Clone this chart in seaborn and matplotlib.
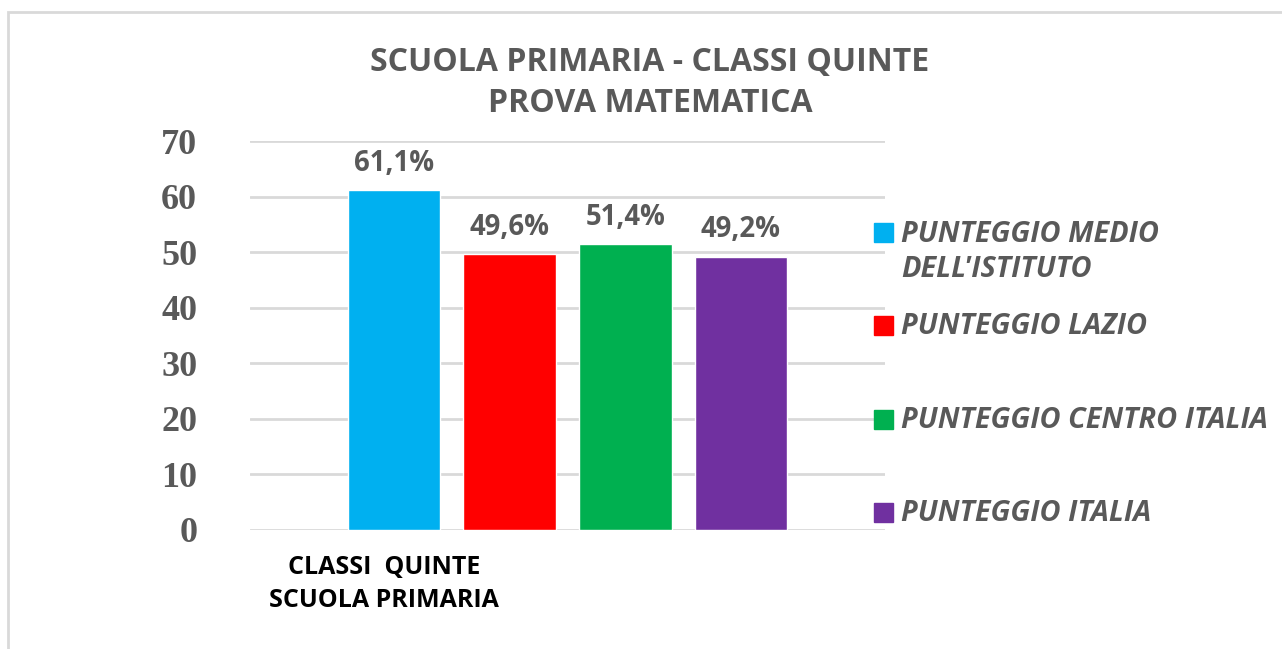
import matplotlib
matplotlib.use("Agg")
import matplotlib.pyplot as plt
import seaborn as sns
import pandas as pd
from matplotlib.patches import Rectangle

# dati
categoria = ["CLASSI  QUINTE\nSCUOLA PRIMARIA"]
serie = ["PUNTEGGIO MEDIO\nDELL'ISTITUTO", "PUNTEGGIO LAZIO",
         "PUNTEGGIO CENTRO ITALIA", "PUNTEGGIO ITALIA"]
valori = [61.1, 49.6, 51.4, 49.2]
etichette = ["61,1%", "49,6%", "51,4%", "49,2%"]
colori = ["#00B0F0", "#FF0000", "#00B050", "#7030A0"]
yticks = [0, 10, 20, 30, 40, 50, 60, 70]

df = pd.DataFrame({"classe": categoria * len(serie), "serie": serie, "valore": valori})

sns.set_theme(style="white")
plt.rcParams['font.family'] = ['Open Sans', 'DejaVu Sans']

fig = plt.figure(figsize=(12.82, 6.49), dpi=100)
ax = fig.add_axes([250 / 1282, 1 - 530 / 649, 635 / 1282, 389 / 649])

sns.barplot(data=df, x="classe", y="valore", hue="serie", palette=colori,
            width=0.728, gap=0.2, ax=ax, legend=False, saturation=1)

ax.set_xlim(-0.5, 0.5)
ax.set_ylim(0, 70)
ax.set_yticks(yticks)
ax.set_yticklabels([str(v) for v in yticks], family="Liberation Serif",
                   fontweight="bold", fontsize=26, color="#595959")
ax.tick_params(axis="y", length=0, pad=38)
ax.set_xticks([])
ax.set_xlabel("")
ax.set_ylabel("")
for s in ax.spines.values():
    s.set_visible(False)
ax.grid(axis="y", color="#D9D9D9", linewidth=2)
ax.set_axisbelow(True)

# etichette dei valori
for bar, lab in zip(ax.patches, etichette):
    ax.annotate(lab, (bar.get_x() + bar.get_width() / 2, bar.get_height()),
                xytext=(0, 9), textcoords="offset points", ha="center", va="bottom",
                fontsize=19.8, fontweight="bold", color="#595959")

# etichetta categoria
fig.text(384 / 1282, 1 - 584 / 649, categoria[0], ha="center", va="center",
         fontsize=18, fontweight="bold", color="black", linespacing=1.42)

# titolo
fig.text(650 / 1282, 1 - 83 / 649, "SCUOLA PRIMARIA - CLASSI QUINTE\nPROVA MATEMATICA",
         ha="center", va="center", fontsize=23, fontweight="bold", color="#595959",
         linespacing=1.35)

# legenda (spaziatura irregolare come nell'originale)
leg_sq = [232, 326, 419.5, 512.5]
for nome, col, yy in zip(serie, colori, leg_sq):
    fig.patches.append(Rectangle((874 / 1282, 1 - (yy + 9.5) / 649), 19 / 1282, 19 / 649,
                                 transform=fig.transFigure, color=col))
    n = nome.count("\n") + 1
    ycen = yy + 1 + (n - 1) * 38 / 2
    fig.text(901 / 1282, 1 - ycen / 649, nome, ha="left", va="center",
             fontsize=20.8, fontweight="bold", fontstyle="italic", color="#595959",
             linespacing=1.31)

# bordo
fig.patches.append(Rectangle((8 / 1282, -0.1), 1.2, 1 - 12 / 649 + 0.1,
                             transform=fig.transFigure, fill=False,
                             edgecolor="#D9D9D9", linewidth=2))

fig.savefig("out.png", dpi=100)
